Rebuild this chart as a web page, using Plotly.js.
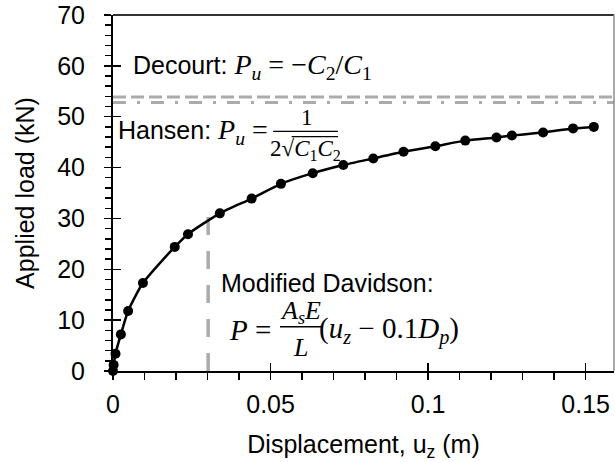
<!DOCTYPE html>
<html><head><meta charset="utf-8">
<script src="https://cdn.plot.ly/plotly-3.0.1.min.js"></script>
<style>html,body{margin:0;padding:0;background:#fff}#chart{width:615px;height:462px}</style>
</head><body><div id="chart"></div>
<script>
// ---- data ----
const displacement = [0, 0.0002, 0.0008, 0.0025, 0.0048, 0.0095, 0.0196, 0.0238, 0.0339, 0.0440, 0.0533, 0.0634, 0.0731, 0.0826, 0.0922, 0.1023, 0.1118, 0.1217, 0.1266, 0.1365, 0.1460, 0.1526];
const appliedLoad  = [0, 1.2, 3.4, 7.2, 11.8, 17.3, 24.4, 26.9, 31.0, 33.9, 36.8, 38.9, 40.5, 41.8, 43.1, 44.2, 45.3, 45.9, 46.3, 46.9, 47.7, 48.0];
const decourtPu = 53.9;      // kN
const hansenPu = 52.8;       // kN
const davidsonU = 0.0302;    // m
const davidsonP = 32;        // kN
const xRange = [0, 0.159];
const yRange = [0, 70];
const xTickVals = [0, 0.05, 0.1, 0.15];
const xTickText = ['0', '0.05', '0.1', '0.15'];
const yTickVals = [0, 10, 20, 30, 40, 50, 60, 70];
const yTickText = ['0', '10', '20', '30', '40', '50', '60', '70'];

const GRAY = '#ababab';
const SANS = 'Liberation Sans, Arial, sans-serif';
const SERIF = 'Liberation Serif, DejaVu Serif, serif';

const traces = [
  {x: xRange, y: [decourtPu, decourtPu], mode: 'lines', line: {color: GRAY, width: 3, dash: '13px,5px'}, hoverinfo: 'skip', showlegend: false},
  {x: xRange, y: [hansenPu, hansenPu], mode: 'lines', line: {color: GRAY, width: 3, dash: '13px,11px,3px,11px'}, hoverinfo: 'skip', showlegend: false},
  {x: [davidsonU, davidsonU], y: [0, davidsonP], mode: 'lines', line: {color: GRAY, width: 3.5, dash: '18px,16px'}, hoverinfo: 'skip', showlegend: false},
  {x: displacement, y: appliedLoad, mode: 'lines+markers', line: {color: '#000', width: 2.5, shape: 'spline', smoothing: 0.6}, marker: {color: '#000', size: 10}, showlegend: false, cliponaxis: false},
  {x: [0], y: [0], xaxis: 'x2', yaxis: 'y2', mode: 'markers', marker: {opacity: 0}, hoverinfo: 'skip', showlegend: false}
];

const mathSpan = (s, size) => '<span style="font-family:' + SERIF + ';font-size:' + size + 'px">' + s + '</span>';

const annotations = [
  {x: 0.0058, y: 59.8, xanchor: 'left', yanchor: 'middle', showarrow: false, font: {family: SANS, size: 25},
   text: 'Decourt: ' + mathSpan('<i>P</i><sub><i>u</i></sub> = −<i>C</i><sub>2</sub>/<i>C</i><sub>1</sub>', 28)},
  {x: 0.0009, y: 47.0, xanchor: 'left', yanchor: 'middle', showarrow: false, font: {family: SANS, size: 25},
   text: 'Hansen: ' + mathSpan('<i>P</i><sub><i>u</i></sub> =', 28)},
  {x: 0.0615, y: 49.8, xanchor: 'center', yanchor: 'middle', showarrow: false, font: {family: SERIF, size: 23},
   text: '1'},
  {x: 0.0611, y: 43.4, xanchor: 'center', yanchor: 'middle', showarrow: false, font: {family: SERIF, size: 23},
   text: '2√<i>C</i><sub>1</sub><i>C</i><sub>2</sub>'},
  {x: 0.0337, y: 17.25, xanchor: 'left', yanchor: 'middle', showarrow: false, font: {family: SANS, size: 25},
   text: 'Modified Davidson:'},
  {x: 0.0362, y: 8.0, xanchor: 'left', yanchor: 'middle', showarrow: false, font: {family: SERIF, size: 29},
   text: '<i>P</i> ='},
  {x: 0.0596, y: 11.6, xanchor: 'center', yanchor: 'middle', showarrow: false, font: {family: SERIF, size: 26},
   text: '<i>A</i><sub><i>s</i></sub><i>E</i>'},
  {x: 0.0596, y: 4.6, xanchor: 'center', yanchor: 'middle', showarrow: false, font: {family: SERIF, size: 26},
   text: '<i>L</i>'},
  {x: 0.0646, y: 8.0, xanchor: 'left', yanchor: 'middle', showarrow: false, font: {family: SERIF, size: 29},
   text: '(<i>u</i><sub><i>z</i></sub> − 0.1<i>D</i><sub><i>p</i></sub>)'}
];

const shapes = [
  // chart frame (top and right)
  {type: 'line', xref: 'paper', yref: 'paper', x0: 0, x1: 1, y0: 1, y1: 1, line: {color: '#333', width: 2}},
  {type: 'line', xref: 'paper', yref: 'paper', x0: 1, x1: 1, y0: 0, y1: 1, line: {color: '#8c8c8c', width: 1.5}},
  // fraction bars / radical vinculum
  {type: 'line', xref: 'x', yref: 'y', x0: 0.0508, x1: 0.0714, y0: 47.1, y1: 47.1, line: {color: '#000', width: 1.3}},
  {type: 'line', xref: 'x', yref: 'y', x0: 0.0567, x1: 0.0714, y0: 46.1, y1: 46.1, line: {color: '#000', width: 1.3}},
  {type: 'line', xref: 'x', yref: 'y', x0: 0.0530, x1: 0.0662, y0: 8.7, y1: 8.7, line: {color: '#000', width: 1.3}}
];

const axisCommon = {
  showgrid: false, zeroline: false, showline: true, linecolor: '#000', linewidth: 2,
  ticks: 'outside', ticklen: 7, tickwidth: 1.5, tickcolor: '#000',
  tickfont: {family: SANS, size: 25, color: '#000'}
};

const layout = {
  width: 615, height: 462,
  margin: {l: 113, r: 1, t: 15, b: 91, pad: 0},
  paper_bgcolor: '#fff', plot_bgcolor: '#fff',
  font: {family: SANS, size: 25, color: '#000'},
  xaxis: Object.assign({}, axisCommon, {
    range: xRange, tickmode: 'array', tickvals: xTickVals, ticktext: xTickText,
    ticklabelstandoff: 3,
    minor: {tickmode: 'linear', tick0: 0, dtick: 0.01, ticks: 'outside', ticklen: 7, tickwidth: 1.5, tickcolor: '#000'},
    title: {text: 'Displacement, u<sub>z</sub> (m)', font: {family: SANS, size: 25, color: '#000'}, standoff: 18}
  }),
  yaxis: Object.assign({}, axisCommon, {
    range: yRange, tickmode: 'array', tickvals: yTickVals, ticktext: yTickText,
    ticklabelstandoff: 14,
    minor: {tickmode: 'linear', tick0: 0, dtick: 2, ticks: 'outside', ticklen: 6, tickwidth: 1.5, tickcolor: '#000'},
    title: {text: 'Applied load (kN)', font: {family: SANS, size: 25, color: '#000'}, standoff: 15}
  }),
  xaxis2: {overlaying: 'x', anchor: 'y', range: xRange, tickmode: 'array', tickvals: xTickVals,
    ticks: 'inside', ticklen: 8, tickwidth: 1.5, tickcolor: '#000', showticklabels: false,
    showline: false, showgrid: false, zeroline: false},
  yaxis2: {overlaying: 'y', anchor: 'x', side: 'left', range: yRange, tickmode: 'array', tickvals: yTickVals,
    ticks: 'inside', ticklen: 8, tickwidth: 1.5, tickcolor: '#000', showticklabels: false,
    showline: false, showgrid: false, zeroline: false},
  annotations: annotations,
  shapes: shapes,
  showlegend: false
};

Plotly.newPlot('chart', traces, layout, {staticPlot: true, displayModeBar: false});
</script>
</body></html>
